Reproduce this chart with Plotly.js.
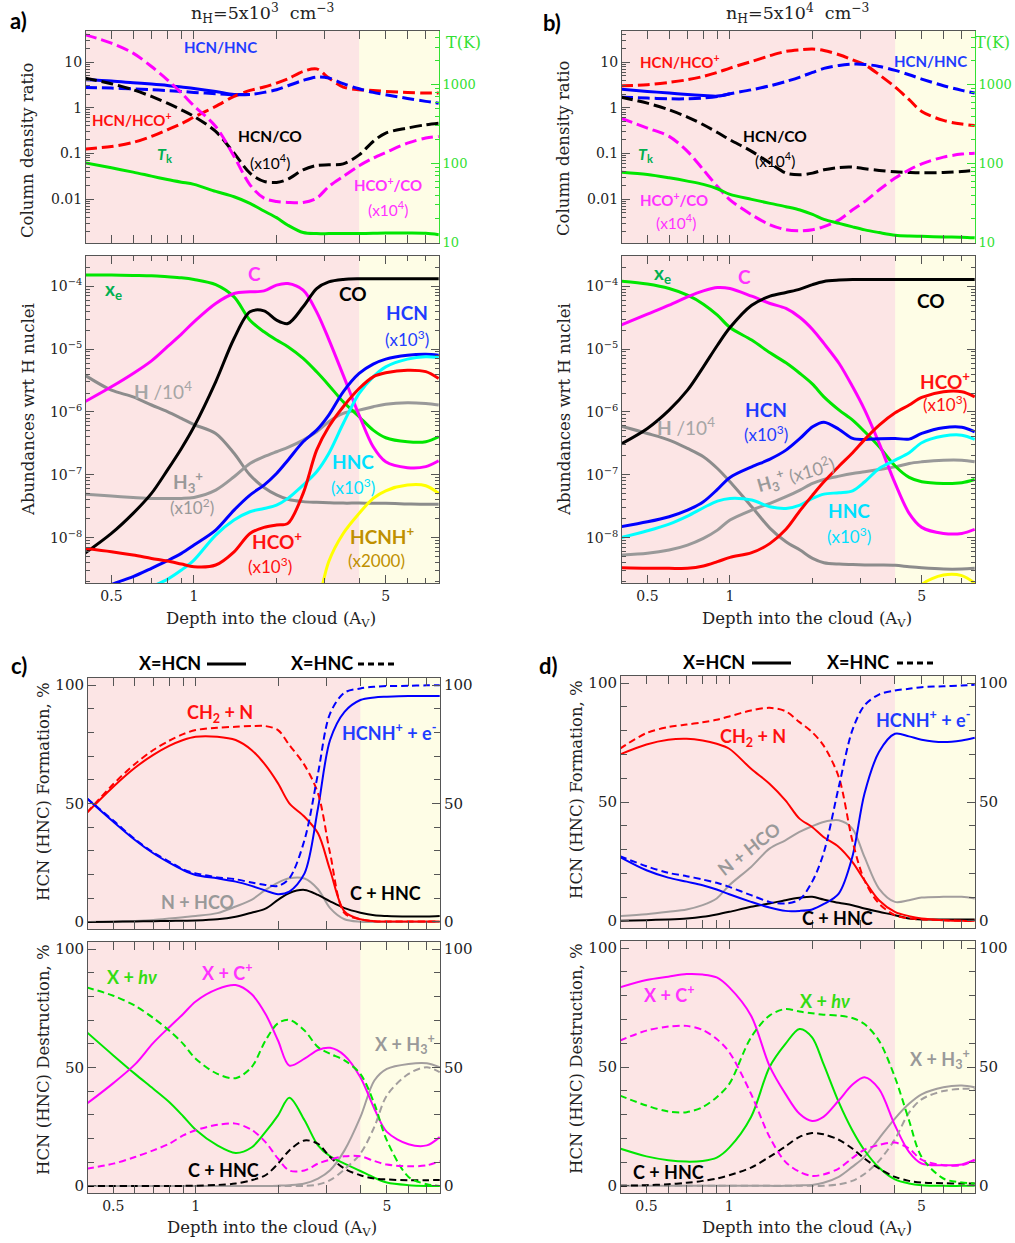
<!DOCTYPE html>
<html><head><meta charset="utf-8">
<script src="https://cdn.plot.ly/plotly-3.0.1.min.js"></script>
<style>html,body{margin:0;padding:0;background:#fff}#chart{width:1015px;height:1243px}</style>
</head><body><div id="chart"></div>
<script>
// ---------------- DATA ----------------
const AV = [0.4, 0.5, 0.6, 0.7, 0.8, 0.9, 1.0, 1.2, 1.4, 1.6, 1.8, 2.0, 2.2, 2.5, 2.8, 3.1, 3.5, 4.0, 4.5, 5.0, 6.0, 7.0, 7.8];
const SHIELD_AV = 4; // start of shaded (yellow) region
const N = null;

// panel a) top : column density ratios, n_H = 5e3
const aHcnHncSolid = [4.1, 3.84, 3.53, 3.30, 3.08, 2.84, 2.65, 2.28, 1.96, 1.96, N, N, N, N, N, N, N, N, N, N, N, N, N];
const aHcnHnc = [2.79, 2.69, 2.6, 2.48, 2.38, 2.28, 2.17, 2.03, 1.93, 1.96, 2.17, 2.48, 3.03, 3.98, 4.7, 4.47, 3.36, 2.6, 2.17, 1.93, 1.6, 1.38, 1.26];
const aHcnHco = [0.124, 0.142, 0.174, 0.236, 0.33, 0.447, 0.625, 1.07, 1.77, 2.4, 2.84, 3.47, 4.3, 6.25, 7.1, 4.47, 2.84, 2.48, 2.38, 2.28, 2.17, 2.1, 2.1];
const aHcnCo = [4.47, 3.36, 2.48, 1.77, 1.26, 0.9, 0.645, 0.303, 0.1016, 0.037, 0.0244, 0.0232, 0.0274, 0.0438, 0.0546, 0.0565, 0.059, 0.093, 0.183, 0.279, 0.359, 0.425, 0.46];
const aHcoCo = [39.7, 26, 15.7, 8.0, 4.1, 2.1, 1.1, 0.39, 0.086, 0.0206, 0.0105, 0.0089, 0.00846, 0.00846, 0.0105, 0.0189, 0.0313, 0.0537, 0.079, 0.105, 0.168, 0.217, 0.236];
const aTk = [102.6, 88.5, 78.1, 69.5, 63, 58.3, 54.6, 44.5, 38.1, 31.4, 25.1, 20.7, 16.6, 13.4, 13.0, 13.0, 13.0, 13.0, 13.1, 13.2, 13.2, 13.1, 12.6];
// panel a) bottom : abundances
const aXe = [1.50e-4, 1.50e-4, 1.48e-4, 1.46e-4, 1.41e-4, 1.36e-4, 1.28e-4, 1.06e-4, 6.76e-5, 2.88e-5, 1.88e-5, 1.39e-5, 1.09e-5, 7.1e-6, 4.35e-6, 2.67e-6, 1.45e-6, 8.4e-7, 5.14e-7, 3.89e-7, 3.36e-7, 3.36e-7, 4.03e-7];
const aC = [1.45e-6, 2.51e-6, 4.09e-6, 6.5e-6, 1.09e-5, 1.73e-5, 2.71e-5, 5.31e-5, 7.64e-5, 8.13e-5, 8.43e-5, 1.04e-4, 1.10e-4, 8.63e-5, 3.91e-5, 1.43e-5, 3.85e-6, 8.9e-7, 2.79e-7, 1.61e-7, 1.30e-7, 1.35e-7, 1.67e-7];
const aCO = [5.64e-9, 1.17e-8, 2.44e-8, 5.07e-8, 1.19e-7, 2.63e-7, 5.81e-7, 3.02e-6, 1.47e-5, 3.91e-5, 4.05e-5, 2.88e-5, 2.55e-5, 4.70e-5, 9.18e-5, 1.17e-4, 1.28e-4, 1.31e-4, 1.31e-4, 1.31e-4, 1.31e-4, 1.31e-4, 1.31e-4];
const aH = [3.85e-6, 2.22e-6, 1.74e-6, 1.29e-6, 1.01e-6, 7.9e-7, 6.3e-7, 4.56e-7, 2.2e-7, 9.9e-8, 6.3e-8, 4.8e-8, 4.1e-8, 3.75e-8, 3.66e-8, 3.6e-8, 3.55e-8, 3.55e-8, 3.52e-8, 3.52e-8, 3.45e-8, 3.4e-8, 3.4e-8];
const aH3p = [4.94e-8, 4.59e-8, 4.37e-8, 4.22e-8, 4.22e-8, 4.22e-8, 4.37e-8, 5.73e-8, 9.33e-8, 1.52e-7, 1.94e-7, 2.33e-7, 2.73e-7, 3.57e-7, 4.84e-7, 6.98e-7, 9.47e-7, 1.07e-6, 1.21e-6, 1.33e-6, 1.40e-6, 1.36e-6, 1.29e-6];
const aHCN = [1.15e-9, 1.8e-9, 2.4e-9, 3.26e-9, 4.31e-9, 5.64e-9, 7.64e-9, 1.32e-8, 2.75e-8, 4.76e-8, 6.87e-8, 1.05e-7, 1.71e-7, 3.36e-7, 5.14e-7, 8.91e-7, 2.09e-6, 4.09e-6, 5.75e-6, 6.92e-6, 8.0e-6, 8.3e-6, 8.0e-6];
const aHNC = [6.3e-10, 9.1e-10, 1.23e-9, 1.66e-9, 2.18e-9, 3.06e-9, 4.41e-9, 1.10e-8, 1.91e-8, 2.59e-8, 2.92e-8, 3.3e-8, 4.22e-8, 6.87e-8, 1.12e-7, 2.19e-7, 6.56e-7, 1.97e-6, 3.62e-6, 5.22e-6, 6.92e-6, 7.53e-6, 7.3e-6];
const aHCOp = [6.76e-9, 5.98e-9, 5.3e-9, 4.69e-9, 4.25e-9, 3.81e-9, 3.46e-9, 3.68e-9, 5.98e-9, 1.17e-8, 1.46e-8, 1.59e-8, 1.69e-8, 5.07e-8, 2.47e-7, 5.81e-7, 1.21e-6, 2.36e-6, 3.62e-6, 4.19e-6, 4.62e-6, 4.37e-6, 3.4e-6];
const aHCNHp = [N, N, N, N, N, N, N, N, N, N, N, N, N, N, 6e-10, 4.17e-9, 1.17e-8, 2.44e-8, 4.22e-8, 5.58e-8, 6.87e-8, 6.7e-8, 5.07e-8];

// panel b) top : n_H = 5e4
const bHcnHncSolid = [2.56, 2.28, 2.10, 1.96, 1.86, 1.8, 2.03, N, N, N, N, N, N, N, N, N, N, N, N, N, N, N, N];
const bHcnHnc = [1.71, 1.63, 1.57, 1.57, 1.63, 1.77, 2.03, 2.48, 3.03, 3.77, 4.70, 5.94, 7.26, 8.45, 9.03, 8.9, 8.03, 6.58, 5.28, 4.25, 3.03, 2.40, 2.10];
const bHcnHco = [3.03, 3.19, 3.59, 4.10, 4.85, 5.94, 7.39, 10.3, 13.8, 17.1, 18.6, 19.3, 18.0, 14.5, 11.2, 8.74, 5.28, 2.84, 1.50, 0.832, 0.528, 0.439, 0.41];
const bHcnCo = [1.71, 1.26, 0.903, 0.625, 0.425, 0.288, 0.199, 0.111, 0.0614, 0.0371, 0.0341, 0.0371, 0.0438, 0.0493, 0.0502, 0.0463, 0.0425, 0.0397, 0.0384, 0.0377, 0.0384, 0.0403, 0.0425];
const bHcoCo = [0.594, 0.36, 0.236, 0.111, 0.0438, 0.0189, 0.00966, 0.00454, 0.00274, 0.00214, 0.00203, 0.00214, 0.00251, 0.00352, 0.00583, 0.00888, 0.016, 0.0289, 0.0438, 0.0594, 0.0831, 0.0967, 0.1016];
const bTk = [78.1, 73, 66.2, 60.1, 54.6, 48.1, 40.8, 35.3, 31.4, 28.5, 25.9, 22.8, 19.7, 17.5, 15.8, 14.5, 13.4, 12.4, 12.1, 12.0, 11.8, 11.7, 11.5];
// panel b) bottom
const bXe = [1.20e-4, 1.08e-4, 9.18e-5, 7.19e-5, 5.18e-5, 3.46e-5, 2.20e-5, 1.39e-5, 8.71e-6, 6.04e-6, 4.09e-6, 2.77e-6, 1.74e-6, 1.07e-6, 7.41e-7, 4.84e-7, 2.79e-7, 1.38e-7, 9.1e-8, 7.76e-8, 7.31e-8, 7.5e-8, 8.45e-8];
const bC = [2.40e-5, 3.59e-5, 4.99e-5, 6.76e-5, 8.43e-5, 9.53e-5, 9.18e-5, 6.93e-5, 5.31e-5, 4.42e-5, 3.18e-5, 2.05e-5, 1.23e-5, 5.9e-6, 2.51e-6, 1.07e-6, 3.16e-7, 7.31e-8, 2.44e-8, 1.46e-8, 1.17e-8, 1.17e-8, 1.36e-8];
const bCO = [3.08e-7, 5.47e-7, 1.07e-6, 2.22e-6, 5.22e-6, 1.15e-5, 2.2e-5, 4.99e-5, 6.93e-5, 7.93e-5, 8.96e-5, 1.06e-4, 1.19e-4, 1.25e-4, 1.28e-4, 1.28e-4, 1.28e-4, 1.28e-4, 1.28e-4, 1.28e-4, 1.28e-4, 1.28e-4, 1.28e-4];
const bH = [5.96e-7, 4.55e-7, 3.57e-7, 2.63e-7, 1.94e-7, 1.26e-7, 7.76e-8, 3.11e-8, 1.41e-8, 8.63e-9, 6.37e-9, 4.7e-9, 4.01e-9, 3.81e-9, 3.75e-9, 3.7e-9, 3.68e-9, 3.64e-9, 3.46e-9, 3.33e-9, 3.18e-9, 3.18e-9, 3.26e-9];
const bH3p = [5.31e-9, 5.64e-9, 6.37e-9, 7.64e-9, 9.75e-9, 1.32e-8, 1.91e-8, 2.75e-8, 3.52e-8, 4.49e-8, 5.73e-8, 7.31e-8, 8.45e-8, 9.55e-8, 1.05e-7, 1.12e-7, 1.22e-7, 1.34e-7, 1.52e-7, 1.61e-7, 1.71e-7, 1.71e-7, 1.61e-7];
const bHCN = [1.50e-8, 1.79e-8, 2.16e-8, 2.75e-8, 3.73e-8, 5.86e-8, 9.1e-8, 1.34e-7, 1.78e-7, 2.47e-7, 3.79e-7, 5.81e-7, 6.89e-7, 5.27e-7, 3.79e-7, 3.66e-7, 3.76e-7, 3.79e-7, 3.7e-7, 4.55e-7, 5.6e-7, 5.7e-7, 4.84e-7];
const bHNC = [1.0e-8, 1.29e-8, 1.65e-8, 2.21e-8, 3.0e-8, 3.83e-8, 4.22e-8, 3.97e-8, 3.11e-8, 2.92e-8, 3.3e-8, 4.22e-8, 4.94e-8, 5.2e-8, 5.58e-8, 7.76e-8, 1.26e-7, 1.71e-7, 2.24e-7, 3.24e-7, 4.13e-7, 4.27e-7, 3.66e-7];
const bHCOp = [3.33e-9, 3.26e-9, 3.26e-9, 3.26e-9, 3.55e-9, 4.16e-9, 4.87e-9, 5.78e-9, 8.13e-9, 1.36e-8, 2.69e-8, 4.76e-8, 7.76e-8, 1.38e-7, 2.24e-7, 3.66e-7, 6.18e-7, 9.7e-7, 1.29e-6, 1.70e-6, 2.09e-6, 2.09e-6, 1.74e-6];
const bHCNHp = [N, N, N, N, N, N, N, N, N, N, N, N, N, N, N, N, N, N, 8e-10, 1.8e-9, 2.55e-9, 2.5e-9, 1.9e-9];

// panel c) formation / destruction (%), n_H = 5e3  (solid = HCN, dashed = HNC)
const cCH2N = [46.1, 57.1, 65.1, 70.5, 74.3, 76.8, 78.2, 78.2, 76.8, 72.6, 66.2, 58.5, 50.1, 44.4, 37.4, 21.9, 4.4, 1.1, 0.3, 0.2, 0.2, 0.2, 0.2];
const cCH2Nd = [46.1, 58.2, 66.7, 72.6, 76.5, 79.3, 81.0, 82.0, 82.4, 82.7, 82.7, 81.0, 74.7, 66.2, 54.3, 29.0, 3.7, 1.1, 0.3, 0.2, 0.2, 0.2, 0.2];
const cHCNH = [52.2, 42.3, 34.6, 29.0, 25.0, 21.9, 19.8, 18.4, 17.0, 15.2, 13.2, 11.7, 12.8, 20.5, 48.0, 76.8, 88.7, 93.7, 94.8, 95.1, 95.4, 95.4, 95.4];
const cHCNHd = [52.2, 42.8, 34.9, 29.3, 25.5, 22.2, 20.5, 18.8, 18.0, 16.6, 15.6, 15.2, 18.4, 34.6, 62.7, 88.0, 96.8, 98.6, 99.3, 99.6, 99.7, 99.9, 99.9];
const cNHCO = [0, 0.1, 0.4, 0.8, 1.4, 2.0, 2.5, 3.7, 6.5, 9.3, 13.5, 16.6, 18.4, 18.3, 13.8, 5.8, 1.1, 0.1, 0, 0, 0, 0, 0];
const cCHNC = [0, 0.1, 0.2, 0.3, 0.4, 0.5, 0.6, 1.1, 2.2, 3.9, 5.6, 9.3, 12.2, 13.5, 11.4, 8.7, 5.8, 3.9, 2.8, 2.5, 2.3, 2.3, 2.5];
const cHv = [64.9, 55.1, 47.3, 41.0, 35.4, 29.4, 23.7, 17.1, 13.9, 16.2, 22.8, 29.8, 37.2, 27.7, 17.1, 12.5, 9.4, 6.3, 3.5, 1.4, 0.3, 0, 0];
const cHvd = [83.8, 80.3, 76.1, 70.9, 65.6, 60.0, 53.7, 47.3, 45.5, 50.1, 61.4, 68.7, 70.1, 65.6, 58.6, 55.8, 53.0, 47.3, 34.7, 19.2, 3.8, 0.7, 0];
const cCp = [34.7, 43.4, 51.3, 60.4, 67.0, 72.6, 77.9, 83.1, 84.8, 81.0, 72.6, 61.4, 50.8, 53.7, 57.4, 58.3, 55.1, 45.9, 32.6, 22.8, 17.6, 17.1, 20.6];
const cCpd = [7.3, 9.4, 12.2, 15.0, 17.8, 21.3, 23.5, 25.8, 26.3, 23.7, 18.5, 11.5, 6.5, 6.5, 9.4, 11.1, 12.5, 12.5, 10.5, 9.0, 8.3, 8.7, 10.5];
const cCHNCd = [0, 0, 0, 0, 0, 0, 0.1, 0.4, 1.0, 2.4, 4.5, 9.4, 15.0, 19.2, 17.8, 12.2, 7.3, 4.5, 3.1, 2.7, 2.4, 2.4, 2.5];
const cH3p = [0, 0, 0, 0, 0, 0, 0, 0, 0, 0, 0, 0.1, 0.3, 1.0, 3.1, 6.6, 15.0, 29.0, 44.5, 49.4, 51.5, 51.8, 50.1];
const cH3pd = [0, 0, 0, 0, 0, 0, 0, 0, 0, 0, 0, 0, 0, 0, 0.6, 2.4, 7.0, 13.6, 24.9, 38.2, 47.3, 50.1, 48.0];

// panel d) formation / destruction (%), n_H = 5e4
const dCH2N = [70.0, 74.2, 76.2, 76.6, 75.9, 74.5, 72.4, 64.0, 57.7, 50.7, 43.0, 39.5, 35.3, 31.1, 24.8, 17.1, 8.7, 3.8, 2.0, 1.0, 0.3, 0, 0];
const dCH2Nd = [72.4, 79.0, 81.5, 82.6, 83.5, 84.6, 86.0, 88.5, 89.6, 88.2, 83.6, 79.4, 73.8, 60.5, 33.9, 17.1, 7.3, 2.4, 1.0, 0.6, 0.3, 0, 0];
const dHCNH = [26.9, 21.3, 18.2, 16.5, 15.0, 13.2, 11.2, 8.0, 5.6, 4.2, 4.2, 4.8, 7.0, 11.5, 26.9, 53.5, 71.0, 78.7, 77.6, 76.2, 75.2, 75.9, 77.0];
const dHCNHd = [27.2, 23.0, 20.2, 18.8, 17.4, 16.0, 14.3, 10.8, 8.0, 7.3, 9.0, 16.4, 28.3, 56.3, 80.1, 90.6, 95.2, 96.9, 97.6, 98.3, 98.7, 99.0, 99.3];
const dNHCO = [2.0, 2.8, 3.8, 4.8, 6.6, 9.4, 15.0, 22.7, 30.4, 33.9, 37.4, 39.8, 41.6, 42.3, 38.8, 26.9, 13.6, 8.0, 8.7, 9.8, 10.1, 10.1, 9.4];
const dCHNC = [0, 0.3, 0.6, 1.0, 1.7, 2.7, 3.8, 5.9, 7.3, 8.7, 9.7, 10.1, 9.0, 7.6, 6.6, 5.2, 3.8, 2.4, 1.0, 0.6, 0.6, 0.6, 0.6];
const dCp = [83.5, 86.6, 88.0, 89.1, 88.9, 87.7, 83.5, 71.6, 50.5, 38.7, 30.3, 27.3, 29.0, 35.9, 42.5, 45.7, 40.8, 25.5, 14.3, 9.4, 8.7, 9.0, 11.0];
const dCpd = [61.1, 65.3, 67.0, 67.3, 65.6, 61.8, 56.2, 38.7, 20.6, 10.1, 5.9, 4.2, 4.8, 7.3, 11.7, 15.2, 17.2, 18.2, 15.7, 11.0, 8.7, 8.7, 10.8];
const dHv = [15.7, 12.4, 10.8, 10.2, 10.5, 11.9, 16.1, 29.0, 49.9, 59.7, 66.0, 62.5, 51.3, 35.2, 23.4, 15.0, 7.7, 2.7, 1.0, 0.3, 0, 0, 0];
const dHvd = [38.0, 33.8, 31.3, 31.0, 33.1, 37.3, 42.9, 62.5, 71.6, 74.4, 73.3, 72.6, 72.0, 71.6, 70.6, 68.1, 61.1, 45.7, 27.6, 12.2, 3.1, 1.4, 1.0];
const dCHNCd = [0, 0.3, 0.7, 1.3, 2.1, 3.1, 4.5, 7.7, 12.2, 16.6, 20.6, 22.2, 21.7, 19.4, 15.7, 11.5, 7.3, 3.8, 2.1, 1.4, 1.1, 1.0, 1.0];
const dH3p = [0, 0, 0, 0, 0, 0, 0, 0, 0, 0, 0.2, 0.4, 1.3, 3.8, 8.0, 12.2, 19.9, 28.3, 34.5, 38.5, 41.5, 42.2, 41.5];
const dH3pd = [0, 0, 0, 0, 0, 0, 0, 0, 0, 0, 0, 0, 0, 0.6, 2.1, 5.0, 10.5, 19.6, 30.8, 36.4, 39.9, 40.8, 40.8];

// tick labels
const xTickVals = [0.5, 1, 5];
const xTickText = ['0.5', '1', '5'];
const xMinorVals = [0.4, 0.6, 0.7, 0.8, 0.9, 2, 3, 4, 6, 7];
const ratioTickVals = [0.01, 0.1, 1, 10];
const ratioTickText = ['0.01', '0.1', '1', '10'];
const tempTickVals = [10, 100, 1000];
const abunTickVals = [1e-8, 1e-7, 1e-6, 1e-5, 1e-4];
const abunTickText = ['10<sup>\u22128</sup>', '10<sup>\u22127</sup>', '10<sup>\u22126</sup>', '10<sup>\u22125</sup>', '10<sup>\u22124</sup>'];
const pctTickVals = [0, 50, 100];

// ---------------- STYLE / LAYOUT ----------------
const W = 1015, H = 1243;
const SERIF = '"DejaVu Serif", "Liberation Serif", serif';
const SANS = 'Lato, "Open Sans", "Noto Sans", sans-serif';
const FRAME = '#555555';
const GREEN_AX = '#33e033';
const PINK = '#fce5e5', YELLOW = '#fefde6';
const X_RANGE = [Math.log10(0.404), Math.log10(7.82)];

const cBlue = '#0000ff', cRed = '#ff0000', cMag = '#ff00ff', cGreen = '#00e600', cCyan = '#00ffff',
      cGray = '#999999', cGray2 = '#a39e9e', cYel = '#ffff00', cBlack = '#000000';
const tBlue = '#1f3cff', tRed = '#ff1010', tMag = '#ff33ff', tGreen = '#00b050', tHv = '#33dd11',
      tCyan = '#00e0ff', tGray = '#a6a6a6', tGold = '#bf9000';

function domX(a, b) { return [a / W, b / W]; }
function domY(top, bottom) { return [1 - bottom / H, 1 - top / H]; }
function logMinor(lo, hi, max) {
  const v = [];
  for (let e = lo; e <= hi; e++) for (let m = 2; m <= 9; m++) { const t = m * Math.pow(10, e); if (!max || t <= max) v.push(t); }
  return v;
}

const PAN = {
  aT: { x: [86, 439], y: [31, 243] },
  aB: { x: [86, 439], y: [256, 583] },
  bT: { x: [622, 975], y: [31, 243] },
  bB: { x: [622, 975], y: [256, 583] },
  cT: { x: [88, 440], y: [678, 929] },
  cB: { x: [88, 440], y: [942, 1193] },
  dT: { x: [621, 975], y: [676, 928] },
  dB: { x: [621, 975], y: [941, 1193] }
};

const tickFont = { family: SERIF, size: 14, color: '#222' };

function xAxis(p, anchor, labels) {
  return {
    domain: domX(p.x[0], p.x[1]), anchor, type: 'log', range: X_RANGE,
    showline: true, linecolor: FRAME, linewidth: 1, mirror: 'allticks',
    ticks: 'inside', ticklen: 8, tickwidth: 1, tickcolor: FRAME,
    tickvals: xTickVals, ticktext: xTickText, showticklabels: labels, tickfont: tickFont,
    minor: { tickvals: xMinorVals, ticks: 'inside', ticklen: 5, tickcolor: FRAME, showgrid: false },
    showgrid: false, zeroline: false, fixedrange: true
  };
}
function baseY(p, anchor, mirror) {
  return {
    domain: domY(p.y[0], p.y[1]), anchor, showline: true, linecolor: FRAME, linewidth: 1,
    mirror: mirror, ticks: 'inside', ticklen: 8, tickwidth: 1, tickcolor: FRAME,
    tickfont: tickFont, showgrid: false, zeroline: false, fixedrange: true
  };
}
function ratioY(p, anchor) {
  return Object.assign(baseY(p, anchor, false), {
    type: 'log', range: [-2.96, 1.68], tickvals: ratioTickVals, ticktext: ratioTickText,
    minor: { tickvals: logMinor(-3, 1), ticks: 'inside', ticklen: 4, tickcolor: FRAME }
  });
}
function tempY(over, anchor) {
  return {
    overlaying: over, anchor, side: 'right', type: 'log', range: [0.995, 3.68],
    showline: true, linecolor: GREEN_AX, linewidth: 1, ticks: 'inside', ticklen: 8, tickcolor: GREEN_AX,
    tickvals: tempTickVals, ticktext: ['10', '100', '1000'],
    tickfont: { family: SERIF, size: 13, color: GREEN_AX },
    minor: { tickvals: logMinor(1, 3, 4500), ticks: 'inside', ticklen: 4, tickcolor: GREEN_AX },
    showgrid: false, zeroline: false, fixedrange: true
  };
}
function abunY(p, anchor) {
  return Object.assign(baseY(p, anchor, 'allticks'), {
    type: 'log', range: [-8.72, -3.52], tickvals: abunTickVals, ticktext: abunTickText,
    minor: { tickvals: logMinor(-9, -4), ticks: 'inside', ticklen: 4, tickcolor: FRAME }
  });
}
function pctY(p, anchor) {
  return Object.assign(baseY(p, anchor, false), {
    range: [-3, 103], tickvals: pctTickVals, ticktext: ['0', '50', '100'],
    tickfont: { family: SERIF, size: 15, color: '#222' },
    minor: { dtick: 10, tick0: 0, ticks: 'inside', ticklen: 6, tickcolor: FRAME }
  });
}
function pctYRight(over, anchor) {
  return {
    overlaying: over, anchor, side: 'right', range: [-3, 103], showline: true, linecolor: FRAME, linewidth: 1,
    ticks: 'inside', ticklen: 8, tickcolor: FRAME, tickvals: pctTickVals, ticktext: ['0', '50', '100'],
    tickfont: { family: SERIF, size: 15, color: '#222' },
    minor: { dtick: 10, tick0: 0, ticks: 'inside', ticklen: 6, tickcolor: FRAME },
    showgrid: false, zeroline: false, fixedrange: true
  };
}

// ---------------- TRACES ----------------
function L(xa, ya, y, color, width, dash) {
  return {
    x: AV, y: y, xaxis: xa, yaxis: ya, type: 'scatter', mode: 'lines', connectgaps: false,
    line: { color, width, dash: dash || 'solid', shape: 'spline', smoothing: 0.9 },
    hoverinfo: 'skip', showlegend: false
  };
}
const DT = '12px,5px';   // dashes in top panels
const DP = '7px,4px';    // dashes in percentage panels
const traces = [
  // a top
  L('x', 'y', aHcnHncSolid, cBlue, 3),
  L('x', 'y', aHcnHco, cRed, 3, DT),
  L('x', 'y', aHcnHnc, cBlue, 3, DT),
  L('x', 'y', aHcnCo, cBlack, 3, DT),
  L('x', 'y', aHcoCo, cMag, 3, DT),
  L('x', 'y9', aTk, cGreen, 3),
  // a bottom
  L('x2', 'y2', aH, '#8c8c8c', 3),
  L('x2', 'y2', aH3p, cGray, 3),
  L('x2', 'y2', aXe, cGreen, 3),
  L('x2', 'y2', aC, cMag, 3),
  L('x2', 'y2', aCO, cBlack, 3),
  L('x2', 'y2', aHCN, cBlue, 3),
  L('x2', 'y2', aHNC, cCyan, 3),
  L('x2', 'y2', aHCOp, cRed, 3),
  L('x2', 'y2', aHCNHp, cYel, 3),
  // b top
  L('x3', 'y3', bHcnHncSolid, cBlue, 3),
  L('x3', 'y3', bHcnHco, cRed, 3, DT),
  L('x3', 'y3', bHcnHnc, cBlue, 3, DT),
  L('x3', 'y3', bHcnCo, cBlack, 3, DT),
  L('x3', 'y3', bHcoCo, cMag, 3, DT),
  L('x3', 'y10', bTk, cGreen, 3),
  // b bottom
  L('x4', 'y4', bH, '#8c8c8c', 3),
  L('x4', 'y4', bH3p, cGray, 3),
  L('x4', 'y4', bXe, cGreen, 3),
  L('x4', 'y4', bC, cMag, 3),
  L('x4', 'y4', bCO, cBlack, 3),
  L('x4', 'y4', bHCN, cBlue, 3),
  L('x4', 'y4', bHNC, cCyan, 3),
  L('x4', 'y4', bHCOp, cRed, 3),
  L('x4', 'y4', bHCNHp, cYel, 3),
  // c top
  L('x5', 'y5', cNHCO, cGray2, 2),
  L('x5', 'y5', cCHNC, cBlack, 2),
  L('x5', 'y5', cCH2N, cRed, 2),
  L('x5', 'y5', cHCNH, cBlue, 2),
  L('x5', 'y11', cCH2Nd, cRed, 2, DP),
  L('x5', 'y11', cHCNHd, cBlue, 2, DP),
  // c bottom
  L('x6', 'y6', cH3p, cGray2, 2),
  L('x6', 'y6', cHv, cGreen, 2),
  L('x6', 'y6', cCp, cMag, 2),
  L('x6', 'y12', cH3pd, cGray2, 2, DP),
  L('x6', 'y12', cCHNCd, cBlack, 2, DP),
  L('x6', 'y12', cHvd, cGreen, 2, DP),
  L('x6', 'y12', cCpd, cMag, 2, DP),
  // d top
  L('x7', 'y7', dNHCO, cGray2, 2),
  L('x7', 'y7', dCHNC, cBlack, 2),
  L('x7', 'y7', dCH2N, cRed, 2),
  L('x7', 'y7', dHCNH, cBlue, 2),
  L('x7', 'y13', dCH2Nd, cRed, 2, DP),
  L('x7', 'y13', dHCNHd, cBlue, 2, DP),
  // d bottom
  L('x8', 'y8', dH3p, cGray2, 2),
  L('x8', 'y8', dHv, cGreen, 2),
  L('x8', 'y8', dCp, cMag, 2),
  L('x8', 'y14', dH3pd, cGray2, 2, DP),
  L('x8', 'y14', dCHNCd, cBlack, 2, DP),
  L('x8', 'y14', dHvd, cGreen, 2, DP),
  L('x8', 'y14', dCpd, cMag, 2, DP)
];

// ---------------- SHAPES (background zones, legend lines) ----------------
const subplots = [['x', 'y'], ['x2', 'y2'], ['x3', 'y3'], ['x4', 'y4'], ['x5', 'y5'], ['x6', 'y6'], ['x7', 'y7'], ['x8', 'y8']];
const shapes = [];
subplots.forEach(([xa, ya]) => {
  shapes.push({ type: 'rect', layer: 'below', xref: xa + ' domain', yref: ya + ' domain', x0: 0, x1: 1, y0: 0, y1: 1, fillcolor: PINK, line: { width: 0 } });
  shapes.push({ type: 'rect', layer: 'below', xref: xa, yref: ya + ' domain', x0: SHIELD_AV, x1: Math.pow(10, X_RANGE[1]), y0: 0, y1: 1, fillcolor: YELLOW, line: { width: 0 } });
});
function pline(x0, x1, y, dash) {
  return { type: 'line', xref: 'paper', yref: 'paper', x0: x0 / W, x1: x1 / W, y0: 1 - y / H, y1: 1 - y / H, line: { color: '#000', width: 3, dash: dash || 'solid' } };
}
shapes.push(pline(207, 246, 664), pline(358, 395, 664, '6px,4px'), pline(752, 791, 663), pline(897, 934, 663, '6px,4px'));

// ---------------- ANNOTATIONS ----------------
const LOGY = new Set(['y', 'y2', 'y3', 'y4', 'y9', 'y10']);
function T(xa, ya, x, y, text, color, size, opt) {
  return Object.assign({
    xref: xa, yref: ya, x: Math.log10(x), y: LOGY.has(ya) ? Math.log10(y) : y, text, showarrow: false,
    xanchor: 'center', yanchor: 'middle', font: { family: SANS, size, color }
  }, opt || {});
}
function P(px, py, text, font, opt) {
  return Object.assign({ xref: 'paper', yref: 'paper', x: px / W, y: 1 - py / H, text, showarrow: false, xanchor: 'center', yanchor: 'middle', font }, opt || {});
}
const fSerif = { family: SERIF, size: 16.5, color: '#222' };
const fTitle = { family: SERIF, size: 17.5, color: '#222' };
const fLetter = { family: SANS, size: 22, color: '#000' };
const fLeg = { family: SANS, size: 18, color: '#000' };
const fTK = { family: SERIF, size: 16, color: GREEN_AX };
const B = s => '<b>' + s + '</b>';

const annotations = [
  // panel letters, titles, legends
  P(18, 20, B('a)'), fLetter), P(552, 22, B('b)'), fLetter), P(19, 665, B('c)'), fLetter), P(548, 665, B('d)'), fLetter),
  P(262, 13, 'n<sub>H</sub>=5x10<sup>3</sup>  cm<sup>\u22123</sup>', fTitle),
  P(797, 13, 'n<sub>H</sub>=5x10<sup>4</sup>  cm<sup>\u22123</sup>', fTitle),
  P(444, 42, 'T(K)', fTK, { xanchor: 'left' }),
  P(1012, 42, 'T(K)', fTK, { xanchor: 'right' }),
  P(170, 663, B('X=HCN'), fLeg), P(322, 663, B('X=HNC'), fLeg),
  P(714, 662, B('X=HCN'), fLeg), P(858, 662, B('X=HNC'), fLeg),
  // axis titles
  P(28, 150, 'Column density ratio', fSerif, { textangle: -90 }),
  P(564, 148, 'Column density ratio', fSerif, { textangle: -90 }),
  P(28, 410, 'Abundances wrt H nuclei', fSerif, { textangle: -90 }),
  P(564, 410, 'Abundances wrt H nuclei', fSerif, { textangle: -90 }),
  P(43, 792, 'HCN (HNC) Formation, %', fSerif, { textangle: -90 }),
  P(576, 790, 'HCN (HNC) Formation, %', fSerif, { textangle: -90 }),
  P(43, 1060, 'HCN (HNC) Destruction, %', fSerif, { textangle: -90 }),
  P(576, 1059, 'HCN (HNC) Destruction, %', fSerif, { textangle: -90 }),
  P(271, 619, 'Depth into the cloud (A<sub>V</sub>)', fSerif),
  P(807, 619, 'Depth into the cloud (A<sub>V</sub>)', fSerif),
  P(272, 1228, 'Depth into the cloud (A<sub>V</sub>)', fSerif),
  P(807, 1228, 'Depth into the cloud (A<sub>V</sub>)', fSerif),

  // a top
  T('x', 'y', 1.25, 21.7, B('HCN/HNC'), tBlue, 15),
  T('x', 'y', 0.595, 0.546, B('HCN/HCO<sup>+</sup>'), tRed, 15),
  T('x', 'y', 1.89, 0.235, B('HCN/CO'), '#000', 15.5),
  T('x', 'y', 1.89, 0.0668, '(x10<sup>4</sup>)', '#000', 15.5),
  T('x', 'y', 0.784, 0.0934, B('<i>T</i><sub>k</sub>'), tGreen, 16),
  T('x', 'y', 5.08, 0.0206, B('HCO<sup>+</sup>/CO'), tMag, 15),
  T('x', 'y', 5.08, 0.00635, '(x10<sup>4</sup>)', tMag, 15.5),
  // a bottom
  T('x2', 'y2', 0.507, 8.6e-5, B('x<sub>e</sub>'), tGreen, 19),
  T('x2', 'y2', 1.667, 1.59e-4, B('C'), tMag, 19),
  T('x2', 'y2', 3.79, 7.64e-5, B('CO'), '#000', 19),
  T('x2', 'y2', 5.96, 3.77e-5, B('HCN'), tBlue, 19),
  T('x2', 'y2', 5.96, 1.47e-5, '(x10<sup>3</sup>)', tBlue, 17),
  T('x2', 'y2', 0.771, 2.22e-6, B('H') + ' /10<sup>4</sup>', tGray, 19),
  T('x2', 'y2', 0.951, 7.76e-8, B('H<sub>3</sub><sup>+</sup>'), '#999', 19),
  T('x2', 'y2', 0.983, 3.11e-8, '(x10<sup>2</sup>)', '#999', 17),
  T('x2', 'y2', 3.79, 1.61e-7, B('HNC'), tCyan, 19),
  T('x2', 'y2', 3.79, 6.45e-8, '(x10<sup>3</sup>)', tCyan, 17),
  T('x2', 'y2', 2.0, 9.18e-9, B('HCO<sup>+</sup>'), tRed, 19),
  T('x2', 'y2', 1.89, 3.68e-9, '(x10<sup>3</sup>)', tRed, 17),
  T('x2', 'y2', 4.88, 1.10e-8, B('HCNH<sup>+</sup>'), tGold, 19),
  T('x2', 'y2', 4.64, 4.41e-9, '(x2000)', tGold, 17),
  // b top
  T('x3', 'y3', 0.655, 10.3, B('HCN/HCO<sup>+</sup>'), tRed, 15),
  T('x3', 'y3', 5.36, 10.3, B('HCN/HNC'), tBlue, 15),
  T('x3', 'y3', 1.464, 0.235, B('HCN/CO'), '#000', 15.5),
  T('x3', 'y3', 1.464, 0.0726, '(x10<sup>4</sup>)', '#000', 15.5),
  T('x3', 'y3', 0.494, 0.0934, B('<i>T</i><sub>k</sub>'), tGreen, 16),
  T('x3', 'y3', 0.627, 0.00966, B('HCO<sup>+</sup>/CO'), tMag, 15),
  T('x3', 'y3', 0.636, 0.00324, '(x10<sup>4</sup>)', tMag, 15.5),
  // b bottom
  T('x4', 'y4', 0.568, 1.59e-4, B('x<sub>e</sub>'), tGreen, 19),
  T('x4', 'y4', 1.126, 1.44e-4, B('C'), tMag, 19),
  T('x4', 'y4', 5.41, 5.99e-5, B('CO'), '#000', 19),
  T('x4', 'y4', 6.09, 3.21e-6, B('HCO<sup>+</sup>'), tRed, 19),
  T('x4', 'y4', 6.09, 1.36e-6, '(x10<sup>3</sup>)', tRed, 17),
  T('x4', 'y4', 1.352, 1.1e-6, B('HCN'), tBlue, 19),
  T('x4', 'y4', 1.352, 4.55e-7, '(x10<sup>3</sup>)', tBlue, 17),
  T('x4', 'y4', 0.692, 5.81e-7, B('H') + ' /10<sup>4</sup>', tGray, 19),
  T('x4', 'y4', 1.734, 9.9e-8, B('H<sub>3</sub><sup>+</sup>') + ' (x10<sup>2</sup>)', '#999', 18, { textangle: -16 }),
  T('x4', 'y4', 2.72, 2.75e-8, B('HNC'), tCyan, 19),
  T('x4', 'y4', 2.72, 1.1e-8, '(x10<sup>3</sup>)', tCyan, 17),
  // c top
  T('x5', 'y5', 1.23, 88.0, B('CH<sub>2</sub> + N'), tRed, 18),
  T('x5', 'y5', 5.07, 80.3, B('HCNH<sup>+</sup> + e<sup>-</sup>'), tBlue, 18),
  T('x5', 'y5', 1.017, 8.2, B('N + HCO'), '#999', 18),
  T('x5', 'y5', 4.93, 12.4, B('C + HNC'), '#000', 18),
  // c bottom
  T('x6', 'y6', 0.589, 88.1, B('X + <i>h\u03bd</i>'), tHv, 18),
  T('x6', 'y6', 1.30, 90.2, B('X + C<sup>+</sup>'), tMag, 18),
  T('x6', 'y6', 5.84, 60.0, B('X + H<sub>3</sub><sup>+</sup>'), '#999', 18),
  T('x6', 'y6', 1.265, 6.6, B('C + HNC'), '#000', 18),
  // d top
  T('x7', 'y7', 1.224, 77.3, B('CH<sub>2</sub> + N'), tRed, 18),
  T('x7', 'y7', 5.07, 85.0, B('HCNH<sup>+</sup> + e<sup>-</sup>'), tBlue, 18),
  T('x7', 'y7', 1.174, 30.4, B('N + HCO'), '#999', 18, { textangle: -38 }),
  T('x7', 'y7', 2.47, 1.4, B('C + HNC'), '#000', 18),
  // d bottom
  T('x8', 'y8', 0.606, 80.7, B('X + C<sup>+</sup>'), tMag, 18),
  T('x8', 'y8', 2.24, 77.9, B('X + <i>h\u03bd</i>'), tHv, 18),
  T('x8', 'y8', 5.84, 53.4, B('X + H<sub>3</sub><sup>+</sup>'), '#999', 18),
  T('x8', 'y8', 0.601, 5.9, B('C + HNC'), '#000', 18)
];

const layout = {
  width: W, height: H, margin: { l: 0, r: 0, t: 0, b: 0 }, showlegend: false,
  paper_bgcolor: '#ffffff', plot_bgcolor: 'rgba(0,0,0,0)',
  font: { family: SERIF, size: 14, color: '#222' },
  xaxis: xAxis(PAN.aT, 'y', false),
  xaxis2: xAxis(PAN.aB, 'y2', true),
  xaxis3: xAxis(PAN.bT, 'y3', false),
  xaxis4: xAxis(PAN.bB, 'y4', true),
  xaxis5: xAxis(PAN.cT, 'y5', false),
  xaxis6: xAxis(PAN.cB, 'y6', true),
  xaxis7: xAxis(PAN.dT, 'y7', false),
  xaxis8: xAxis(PAN.dB, 'y8', true),
  yaxis: ratioY(PAN.aT, 'x'),
  yaxis2: abunY(PAN.aB, 'x2'),
  yaxis3: ratioY(PAN.bT, 'x3'),
  yaxis4: abunY(PAN.bB, 'x4'),
  yaxis5: pctY(PAN.cT, 'x5'),
  yaxis6: pctY(PAN.cB, 'x6'),
  yaxis7: pctY(PAN.dT, 'x7'),
  yaxis8: pctY(PAN.dB, 'x8'),
  yaxis9: tempY('y', 'x'),
  yaxis10: tempY('y3', 'x3'),
  yaxis11: pctYRight('y5', 'x5'),
  yaxis12: pctYRight('y6', 'x6'),
  yaxis13: pctYRight('y7', 'x7'),
  yaxis14: pctYRight('y8', 'x8'),
  shapes, annotations
};

Plotly.newPlot('chart', traces, layout, { displayModeBar: false, staticPlot: true });
</script></body></html>
